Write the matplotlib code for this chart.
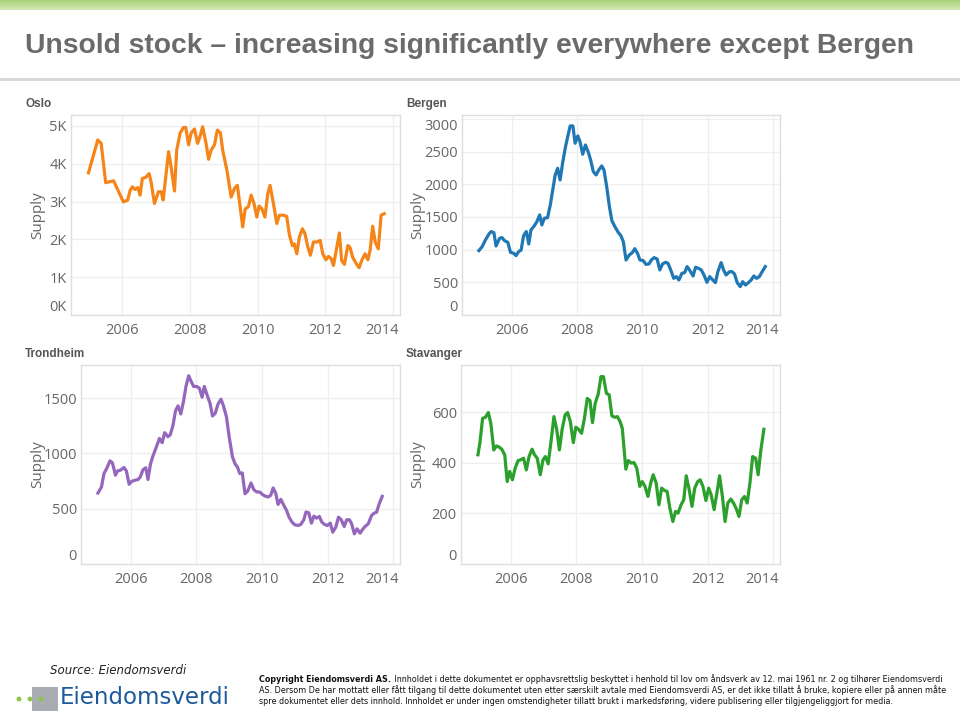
import numpy as np
import matplotlib.pyplot as plt
import matplotlib.transforms as mtransforms
from matplotlib.colors import LinearSegmentedColormap
from matplotlib.patches import Rectangle, Circle
from matplotlib.ticker import FuncFormatter

# month offsets from Jan 2005, with the supply at each point
oslo_month = [0, 3.3, 4.5, 6.1, 8.9, 12.4, 13.9, 14.8, 15.6, 16.5,
              17.5, 18.3, 19.1, 20.3, 21.5, 22.2, 23.4, 24.8, 25.8, 26.5,
              28.4, 29.3, 30.5, 31.3, 32.5, 33.7, 34.5, 35.5, 36.4, 37.6,
              38.7, 39.6, 40.5, 41.7, 42.6, 43.5, 44.7, 45.7, 46.8, 47.6,
              49.1, 50.6, 51.8, 52.8, 53.8, 54.7, 55.6, 56.7, 57.7, 58.7,
              59.7, 60.5, 61.5, 62.6, 63.6, 64.4, 65.6, 66.8, 67.7, 69.1,
              70.3, 71.3, 72.3, 73.0, 73.9, 74.8, 75.9, 76.8, 77.8, 78.7,
              79.8, 81.0, 82.2, 83.1, 84.2, 85.1, 86.1, 86.9, 88.1, 89.0,
              89.8, 90.8, 92.0, 92.8, 93.7, 94.9, 96.0, 96.9, 98.1, 99.1,
              99.9, 100.8, 101.7, 102.8, 103.8, 104.9]
oslo_supply = [3760, 4630, 4540, 3500, 3550, 2990, 3040, 3300, 3390, 3320,
               3370, 3170, 3610, 3640, 3740, 3520, 2950, 3260, 3260, 3040,
               4320, 3920, 3280, 4360, 4810, 4960, 4960, 4500, 4810, 4920,
               4540, 4730, 4980, 4540, 4120, 4360, 4500, 4890, 4820, 4360,
               3830, 3120, 3350, 3430, 2860, 2330, 2810, 2860, 3170, 2950,
               2590, 2880, 2810, 2590, 3210, 3430, 2950, 2420, 2640, 2640,
               2610, 2110, 1840, 1880, 1620, 2060, 2280, 2150, 1800, 1580,
               1930, 1930, 1970, 1620, 1460, 1550, 1490, 1310, 1800, 2170,
               1440, 1340, 1840, 1780, 1530, 1370, 1250, 1440, 1620, 1460,
               1710, 2350, 1930, 1750, 2640, 2680]

bergen_month = [0.0, 1.2, 2.4, 3.7, 4.5, 5.5, 6.3, 7.6, 8.5, 9.4,
                10.6, 11.6, 12.8, 13.6, 14.6, 15.5, 16.4, 17.4, 18.3, 19.1,
                20.3, 21.3, 22.3, 23.1, 24.0, 25.2, 26.2, 27.2, 28.0, 28.9,
                29.8, 30.8, 31.8, 32.6, 33.5, 34.5, 35.3, 36.3, 37.1, 38.1,
                39.1, 40.2, 41.0, 42.0, 43.0, 44.0, 45.1, 45.9, 46.9, 47.9,
                48.8, 49.9, 51.2, 52.1, 53.0, 54.0, 55.2, 56.3, 57.2, 58.2,
                59.1, 60.3, 61.3, 62.4, 63.3, 64.3, 65.4, 66.4, 67.4, 68.5,
                69.4, 70.4, 71.5, 72.5, 73.4, 74.5, 75.5, 76.4, 77.3, 78.6,
                79.5, 80.6, 81.6, 82.6, 83.7, 84.7, 85.6, 86.8, 87.7, 88.9,
                89.8, 90.7, 92.0, 92.9, 93.8, 94.8, 95.9, 96.8, 97.8, 98.9,
                99.9, 100.9, 101.9, 102.9, 104.1, 105.1]
bergen_supply = [985, 1046, 1148, 1240, 1276, 1260, 1056, 1173, 1184, 1138,
                 1112, 959, 944, 908, 969, 995, 1214, 1276, 1087, 1301,
                 1362, 1429, 1531, 1378, 1480, 1490, 1684, 1939, 2143, 2245,
                 2066, 2347, 2577, 2730, 2893, 2893, 2628, 2740, 2653, 2459,
                 2602, 2485, 2372, 2194, 2143, 2219, 2281, 2219, 1964, 1658,
                 1444, 1352, 1260, 1214, 1122, 842, 918, 954, 1015, 944,
                 842, 832, 775, 781, 842, 878, 857, 689, 781, 806,
                 791, 689, 561, 587, 536, 638, 648, 740, 689, 597,
                 730, 714, 689, 612, 500, 587, 546, 495, 663, 801,
                 689, 612, 663, 663, 628, 495, 434, 510, 459, 495,
                 536, 597, 561, 587, 673, 740]

trondheim_month = [0, 1.3, 2.2, 3.2, 4.4, 5.3, 6.4, 7.2, 8.2, 9.5,
                   10.4, 11.4, 12.4, 13.6, 14.7, 15.5, 16.5, 17.5, 18.3, 19.2,
                   20.1, 21.3, 22.5, 23.5, 24.4, 25.6, 26.4, 27.4, 28.4, 29.3,
                   30.3, 31.3, 32.2, 33.2, 34.1, 35.0, 36.1, 37.1, 38.1, 38.9,
                   39.9, 41.0, 41.9, 42.9, 43.9, 45.0, 45.8, 47.0, 48.0, 49.2,
                   50.2, 51.0, 51.9, 52.8, 53.8, 54.8, 56.0, 57.0, 58.1, 59.2,
                   60.1, 61.1, 62.2, 63.2, 64.1, 65.0, 65.9, 66.9, 68.0, 69.0,
                   69.9, 71.0, 72.0, 73.2, 74.2, 75.3, 76.1, 77.1, 78.1, 79.0,
                   80.0, 81.0, 81.9, 82.9, 83.9, 85.0, 85.9, 87.0, 88.0, 89.0,
                   90.1, 91.0, 92.0, 92.8, 93.8, 94.8, 95.9, 96.8, 97.7, 98.9,
                   100.1, 101.1, 101.9, 102.9, 104.0]
trondheim_supply = [642, 697, 818, 864, 933, 915, 803, 842, 848, 873,
                    842, 721, 748, 758, 764, 788, 854, 870, 764, 903,
                    976, 1054, 1136, 1097, 1188, 1151, 1167, 1248, 1388, 1430,
                    1357, 1470, 1606, 1703, 1651, 1606, 1606, 1591, 1509, 1606,
                    1530, 1454, 1339, 1363, 1445, 1491, 1439, 1333, 1151, 970,
                    903, 879, 818, 824, 636, 660, 733, 673, 651, 651,
                    630, 615, 606, 621, 688, 642, 539, 585, 530, 485,
                    424, 379, 355, 348, 358, 400, 470, 464, 370, 433,
                    415, 430, 379, 358, 348, 370, 288, 333, 424, 400,
                    339, 400, 400, 364, 273, 318, 279, 312, 339, 364,
                    439, 461, 467, 545, 612]

stavanger_month = [0, 0.7, 1.7, 2.7, 3.8, 4.7, 5.8, 6.8, 7.8, 8.7,
                   9.8, 10.7, 11.6, 12.6, 13.6, 14.7, 15.6, 16.7, 17.7, 18.7,
                   19.8, 20.7, 21.7, 22.8, 23.8, 24.7, 25.7, 26.8, 27.8, 28.8,
                   29.8, 30.8, 31.9, 32.8, 33.8, 34.9, 35.8, 36.8, 37.9, 38.9,
                   40.0, 41.0, 41.9, 42.9, 44.0, 45.0, 45.9, 47.0, 48.0, 49.0,
                   50.1, 51.0, 52.0, 52.8, 54.1, 55.0, 56.1, 57.1, 58.1, 59.2,
                   60.1, 61.1, 62.2, 63.2, 64.1, 65.2, 66.2, 67.2, 68.2, 69.2,
                   70.2, 71.3, 72.3, 73.2, 74.3, 75.3, 76.2, 77.3, 78.3, 79.3,
                   80.4, 81.3, 82.3, 83.4, 84.4, 85.3, 86.4, 87.4, 88.4, 89.5,
                   90.4, 91.4, 92.5, 93.5, 94.4, 95.5, 96.5, 97.5, 98.5, 99.5,
                   100.5, 101.6, 102.5, 103.5, 104.6]
stavanger_supply = [432, 478, 576, 580, 599, 557, 451, 467, 462, 454,
                    432, 326, 366, 333, 379, 409, 412, 418, 372, 425,
                    454, 432, 418, 353, 412, 425, 396, 491, 583, 533,
                    451, 533, 590, 599, 563, 480, 541, 533, 517, 572,
                    655, 646, 559, 636, 672, 741, 741, 675, 669, 586,
                    580, 583, 563, 537, 375, 409, 399, 401, 379, 307,
                    326, 307, 267, 320, 353, 320, 234, 300, 291, 287,
                    221, 168, 208, 201, 234, 254, 349, 293, 228, 300,
                    326, 333, 307, 251, 300, 274, 215, 280, 349, 261,
                    168, 241, 257, 241, 221, 188, 254, 267, 241, 320,
                    425, 418, 353, 451, 533]

year_labels = [2006, 2008, 2010, 2012, 2014]
oslo_ticks = [0, 1000, 2000, 3000, 4000, 5000]
bergen_ticks = [0, 500, 1000, 1500, 2000, 2500, 3000]
trondheim_ticks = [0, 500, 1000, 1500]
stavanger_ticks = [0, 200, 400, 600]

title = "Unsold stock \u2013 increasing significantly everywhere except Bergen"
copyright_bold = "Copyright Eiendomsverdi AS."
copyright_lines = [
    " Innholdet i dette dokumentet er opphavsrettslig beskyttet i henhold til lov om \u00e5ndsverk av 12. mai 1961 nr. 2 og tilh\u00f8rer Eiendomsverdi",
    "AS. Dersom De har mottatt eller f\u00e5tt tilgang til dette dokumentet uten etter s\u00e6rskilt avtale med Eiendomsverdi AS, er det ikke tillatt \u00e5 bruke, kopiere eller p\u00e5 annen m\u00e5te",
    "spre dokumentet eller dets innhold. Innholdet er under ingen omstendigheter tillatt brukt i markedsf\u00f8ring, videre publisering eller tilgjengeliggjort for media.",
]

W, H = 960, 712
fig = plt.figure(figsize=(W / 100, H / 100), dpi=100)
bg = fig.add_axes([0, 0, 1, 1])
bg.axis('off')

# green band on top
band = LinearSegmentedColormap.from_list('band', ['#a8d17c', '#d2eab4'])
bg.imshow(np.linspace(0, 1, 40).reshape(-1, 1), extent=[0, W, 10, 0],
          cmap=band, aspect='auto')
bg.plot([0, W], [79, 79], color='#d6d6d6', lw=2)
bg.set_xlim(0, W)
bg.set_ylim(H, 0)

title_txt = bg.text(25, 46, title, fontsize=17, fontweight='bold', color='#6b6b6b',
                    family='Liberation Sans', va='center', ha='left')

tick_font = 'Open Sans'
grey = '#666666'

# name, x, y, colour, box (left, top, right, bottom in px), ymax, ticks, title x, label x
panels = [
    ("Oslo", oslo_month, oslo_supply, '#f58518', (71, 115, 400, 315), 5290, oslo_ticks, 25, 38),
    ("Bergen", bergen_month, bergen_supply, '#1f77b4', (462, 115, 780, 315), 3060, bergen_ticks, 406, 418),
    ("Trondheim", trondheim_month, trondheim_supply, '#9467bd', (81, 365, 400, 564), 1800, trondheim_ticks, 25, 38),
    ("Stavanger", stavanger_month, stavanger_supply, '#2ca02c', (461, 365, 780, 564), 787, stavanger_ticks, 406, 418),
]

for name, months, supply, color, box, ymax, yticks, name_x, lab_x in panels:
    l, t, r, b = box
    ax = fig.add_axes([l / W, 1 - b / H, (r - l) / W, (b - t) / H])
    ax.plot(months, supply, color=color, lw=2.3, solid_joinstyle='round')
    ax.set_xlim(-6.2, 110.5)
    ax.set_ylim(0, ymax)
    ax.set_xticks([(y - 2005) * 12 for y in year_labels])
    ax.set_xticklabels([str(y) for y in year_labels])
    ax.set_yticks(yticks)
    if name == "Oslo":
        ax.yaxis.set_major_formatter(FuncFormatter(lambda v, p: f"{v / 1000:.0f}K"))
    ax.grid(True, color='#eeeeee', lw=0.9)
    ax.set_axisbelow(True)
    for s in ax.spines.values():
        s.set_color('#dedede')
        s.set_linewidth(1)
    ax.tick_params(length=0, colors=grey, labelsize=10.5, pad=3)
    ax.tick_params(axis='x', pad=6)
    for lab in ax.get_xticklabels() + ax.get_yticklabels():
        lab.set_family(tick_font)
    # edge labels pulled inside, like the original
    ylabs = ax.get_yticklabels()
    ylabs[0].set_va('bottom')
    if name == "Bergen":
        ylabs[-1].set_va('top')
    last = ax.get_xticklabels()[-1]
    last.set_ha('right')
    last.set_transform(last.get_transform() +
                       mtransforms.ScaledTranslation(6 / 100, 0, fig.dpi_scale_trans))

    bg.text(name_x, t - 11, name, fontsize=8.5, fontweight='bold',
            color='#555555', family='Liberation Sans', va='center', ha='left')
    bg.text(lab_x, (t + b) / 2, "Supply", rotation=90, fontsize=11, color=grey,
            family=tick_font, va='center', ha='center')

# footer
bg.text(50, 670, "Source: Eiendomsverdi", fontsize=8.5, style='italic', color='#222222',
        family='DejaVu Sans', va='center', ha='left')
bg.add_patch(Rectangle((32, 687), 26, 24, color='#a9adb1', lw=0))
for cx in [19, 30, 41]:
    bg.add_patch(Circle((cx, 699), 2.4, color='#8cc63f', lw=0))
logo_txt = bg.text(60, 698, "Eiendomsverdi", fontsize=17, color='#1d5a9a',
                   family='DejaVu Sans', va='center', ha='left')

fs0 = 7
cb = bg.text(259, 679, copyright_bold, fontsize=fs0, fontweight='bold', color='#111111',
             family='DejaVu Sans', va='center', ha='left')
rest = [bg.text(259, 679 + 11 * i, line, fontsize=fs0, color='#111111',
                family='DejaVu Sans', va='center', ha='left')
        for i, line in enumerate(copyright_lines)]

# size the long texts to the widths they take in the original
fig.canvas.draw()
rend = fig.canvas.get_renderer()


def fit(txt, width_px):
    w = txt.get_window_extent(rend).width
    txt.set_fontsize(txt.get_fontsize() * width_px / w)


fit(title_txt, 888)
fit(logo_txt, 170)
wb = cb.get_window_extent(rend).width
wn = rest[0].get_window_extent(rend).width
scale = 688 / (wb + wn)
cb.set_fontsize(fs0 * scale)
for i, tx in enumerate(rest):
    tx.set_fontsize(fs0 * scale)
rest[0].set_x(259 + wb * scale)

fig.savefig('out.png', dpi=100)
